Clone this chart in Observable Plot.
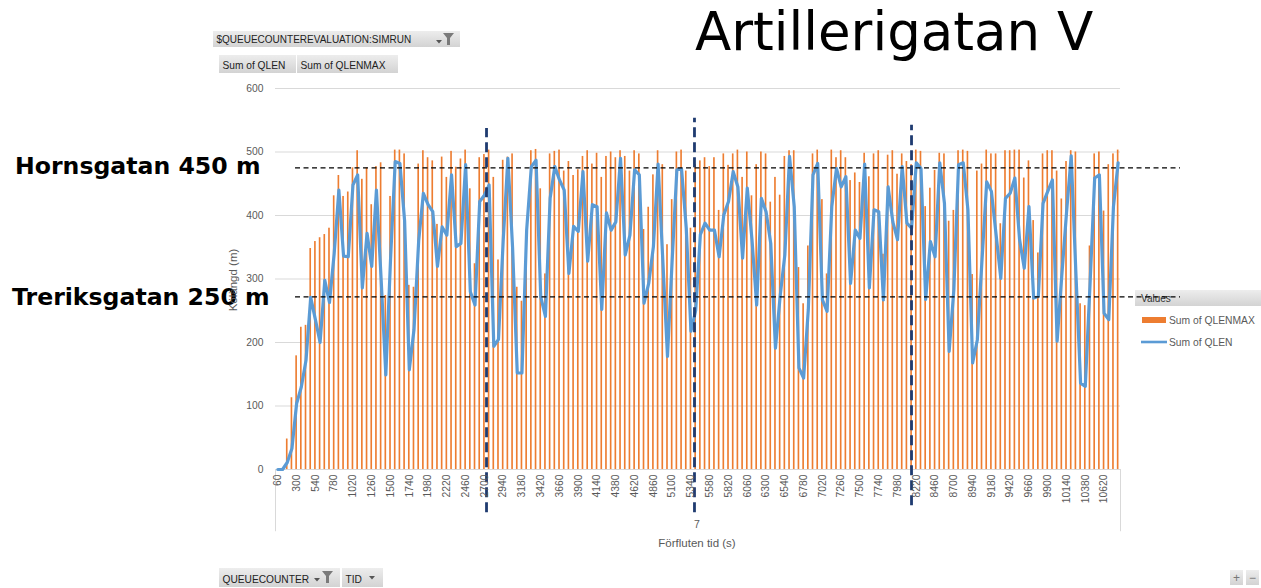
<!DOCTYPE html>
<html><head><meta charset="utf-8">
<script src="https://cdn.jsdelivr.net/npm/d3@7"></script>
<script src="https://cdn.jsdelivr.net/npm/@observablehq/plot@0.6"></script>
<style>
html,body{margin:0;padding:0;background:#fff;}
#wrap{position:relative;width:1261px;height:588px;overflow:hidden;font-family:"Liberation Sans",Arial,sans-serif;}
#under,#over,#chart{position:absolute;left:0;top:0;}
#chart svg{display:block;}
</style></head><body>
<div id="wrap"><svg id="under" width="1261" height="588"></svg><div id="chart"></div><svg id="over" width="1261" height="588"></svg></div>
<script>
// category axis: elapsed time (s)
const times = d3.range(60, 10801, 60);
const xTickLabels = d3.range(60, 10801, 240);
const yTickValues = [0, 100, 200, 300, 400, 500, 600];

// Sum of QLENMAX (bars)
const qlenmax = [
  0, 0, 48, 113, 179, 224, 227, 348, 359, 365,
  370, 380, 431, 463, 430, 437, 475, 502, 457, 475,
  417, 477, 483, 274, 430, 503, 503, 497, 290, 287,
  481, 502, 491, 486, 386, 492, 460, 501, 476, 489,
  503, 442, 324, 491, 496, 503, 460, 330, 487, 492,
  497, 287, 265, 375, 502, 504, 442, 308, 497, 501,
  503, 470, 485, 463, 472, 493, 502, 481, 498, 460,
  493, 500, 491, 502, 493, 470, 502, 497, 378, 413,
  464, 502, 480, 354, 425, 500, 503, 470, 380, 480,
  486, 491, 477, 491, 408, 497, 479, 497, 503, 460,
  500, 431, 480, 500, 497, 421, 460, 432, 493, 502,
  502, 318, 261, 352, 497, 503, 425, 308, 503, 491,
  502, 491, 455, 467, 452, 498, 461, 497, 502, 339,
  495, 502, 465, 497, 485, 480, 503, 501, 414, 443,
  471, 498, 497, 391, 408, 502, 503, 501, 307, 470,
  481, 503, 497, 497, 387, 502, 502, 503, 503, 459,
  486, 392, 341, 497, 502, 502, 470, 426, 485, 502,
  500, 261, 258, 352, 497, 500, 407, 480, 497, 503
];

// Sum of QLEN (line)
const qlen = [
  0, 0, 11, 33, 104, 130, 172, 271, 236, 200,
  298, 263, 340, 440, 336, 335, 448, 464, 286, 372,
  320, 440, 300, 149, 330, 485, 482, 392, 157, 220,
  360, 435, 417, 406, 320, 382, 369, 464, 351, 356,
  480, 280, 259, 422, 432, 448, 194, 205, 360, 490,
  350, 152, 152, 377, 477, 487, 272, 241, 427, 477,
  456, 440, 309, 383, 375, 469, 328, 417, 414, 252,
  404, 377, 390, 490, 338, 369, 472, 464, 262, 293,
  351, 481, 330, 178, 330, 472, 473, 380, 218, 250,
  370, 388, 377, 377, 335, 401, 422, 469, 445, 333,
  443, 362, 259, 427, 406, 356, 191, 273, 338, 493,
  414, 160, 144, 252, 464, 482, 267, 249, 414, 474,
  445, 461, 293, 377, 364, 481, 286, 409, 406, 267,
  445, 390, 362, 477, 388, 380, 483, 474, 268, 359,
  335, 483, 419, 186, 283, 480, 483, 409, 168, 204,
  330, 453, 438, 370, 301, 427, 435, 459, 362, 317,
  414, 270, 273, 419, 438, 456, 202, 306, 404, 494,
  309, 136, 131, 290, 459, 464, 246, 236, 414, 483
];

const seriesNames = ["Sum of QLENMAX", "Sum of QLEN"];
const pivotFields = ["$QUEUECOUNTEREVALUATION:SIMRUN", "QUEUECOUNTER", "TID"];
const referenceLines = [
  {label: "Hornsgatan 450 m", value: 475},
  {label: "Treriksgatan 250 m", value: 272}
];
const sectionMarkers = [
  {t: 2727, top: 537, bottom: -68},
  {t: 5385, top: 553, bottom: -68},
  {t: 8159, top: 542, bottom: -57}
];
const outerCategory = "7";

const rows = times.map((t, i) => ({t, qlenmax: qlenmax[i], qlen: qlen[i]}));
const ORANGE = "#ED7D31", BLUE = "#5B9BD5", GREY = "#595959";

const chart = Plot.plot({
  width: 1261, height: 588,
  marginLeft: 275, marginRight: 141, marginTop: 88, marginBottom: 119,
  style: {background: "transparent", overflow: "visible", fontFamily: "Liberation Sans, Arial, sans-serif"},
  x: {domain: [30, 10830], axis: null},
  y: {domain: [0, 600], axis: null},
  marks: [
    Plot.gridY(yTickValues, {stroke: "#D9D9D9", strokeOpacity: 1}),
    Plot.ruleX([30, 10830], {y1: 0, y2: -98, stroke: "#D9D9D9", strokeOpacity: 1}),
    Plot.rectY(rows, {x1: d => d.t - 10.5, x2: d => d.t + 10.5, y: "qlenmax", fill: ORANGE}),
    Plot.line(rows, {x: "t", y: "qlen", stroke: BLUE, strokeWidth: 3.2, strokeLinejoin: "round", strokeLinecap: "round"}),
    Plot.ruleY(referenceLines, {y: "value", x1: 286, x2: 11597, stroke: "#000", strokeWidth: 1.3, strokeDasharray: "5,3.5"}),
    Plot.ruleX(sectionMarkers, {x: "t", y1: "bottom", y2: "top", stroke: "#1F3B70", strokeWidth: 2.8, strokeDasharray: "10,5"}),
    Plot.axisY({ticks: yTickValues, tickSize: 0, tickPadding: 12, fontSize: 10.3, fill: GREY, stroke: GREY, label: null}),
    Plot.axisX({ticks: xTickLabels, tickFormat: d => String(d), tickRotate: -90, tickSize: 0, tickPadding: 5, fontSize: 10.3, fill: GREY, stroke: GREY, label: null})
  ]
});
document.getElementById("chart").appendChild(chart);

// ---- underlay (legend header, crossed by the dashed line) ----
const under = d3.select("#under");
const defs = under.append("defs");
const g1 = defs.append("linearGradient").attr("id", "btn").attr("x1", 0).attr("y1", 0).attr("x2", 0).attr("y2", 1);
g1.append("stop").attr("offset", 0).attr("stop-color", "#EDEDED");
g1.append("stop").attr("offset", 1).attr("stop-color", "#D3D3D3");
under.append("rect").attr("x", 1135).attr("y", 290).attr("width", 130).attr("height", 16).attr("fill", "url(#btn)");
under.append("text").attr("x", 1141).attr("y", 302).attr("font-size", 10).attr("fill", "#333").text("Values");

// ---- overlay ----
const over = d3.select("#over");
const od = over.append("defs");
const g2 = od.append("linearGradient").attr("id", "btn2").attr("x1", 0).attr("y1", 0).attr("x2", 0).attr("y2", 1);
g2.append("stop").attr("offset", 0).attr("stop-color", "#EDEDED");
g2.append("stop").attr("offset", 1).attr("stop-color", "#D3D3D3");

over.append("text").attr("x", 695).attr("y", 50)
  .attr("font-family", "DejaVu Sans, Verdana, sans-serif").attr("font-size", 53).attr("fill", "#000")
  .text("Artillerigatan V");

const refLabelPos = [{x: 15, y: 174}, {x: 12, y: 305}];
referenceLines.forEach((r, i) => {
  over.append("text").attr("x", refLabelPos[i].x).attr("y", refLabelPos[i].y)
    .attr("font-family", "DejaVu Sans, Verdana, sans-serif").attr("font-weight", "bold")
    .attr("font-size", 23.6).attr("fill", "#000").text(r.label);
});

over.append("text").attr("transform", "translate(237,280) rotate(-90)").attr("text-anchor", "middle")
  .attr("font-size", 11.5).attr("fill", GREY).text("Kölängd (m)");

over.append("text").attr("x", 697).attr("y", 528).attr("text-anchor", "middle")
  .attr("font-size", 10.5).attr("fill", GREY).text(outerCategory);
over.append("text").attr("x", 697).attr("y", 547).attr("text-anchor", "middle")
  .attr("font-size", 11.5).attr("fill", GREY).text("Förfluten tid (s)");

// legend
over.append("rect").attr("x", 1142).attr("y", 317).attr("width", 24).attr("height", 6).attr("fill", ORANGE);
over.append("text").attr("x", 1169).attr("y", 323.5).attr("font-size", 10.3).attr("fill", GREY).text(seriesNames[0]);
over.append("line").attr("x1", 1141).attr("x2", 1167).attr("y1", 342).attr("y2", 342).attr("stroke", BLUE).attr("stroke-width", 2.6);
over.append("text").attr("x", 1169).attr("y", 346).attr("font-size", 10.3).attr("fill", GREY).text(seriesNames[1]);

// pivot buttons
function button(x, y, w, h, label, fs) {
  over.append("rect").attr("x", x).attr("y", y).attr("width", w).attr("height", h).attr("fill", "url(#btn2)");
  over.append("text").attr("x", x + 3.5).attr("y", y + h - 4.5).attr("font-size", fs).attr("fill", "#222").text(label);
}
function funnel(x, y) {
  over.append("path").attr("d", `M${x},${y} h11 l-4,5 v7 h-3 v-7 z`).attr("fill", "#7A7A7A");
}
function caret(x, y) {
  over.append("path").attr("d", `M${x},${y} h6 l-3,3.5 z`).attr("fill", "#555");
}
button(213, 31, 247, 16, pivotFields[0], 10);
caret(436, 40); funnel(443, 33);
button(219, 55, 77, 18, seriesNames[1], 10.2);
button(297, 55, 101, 18, seriesNames[0], 10.2);
button(219, 568, 121, 19, pivotFields[1], 10.2);
caret(314, 578); funnel(322, 571);
button(342, 568, 41, 19, pivotFields[2], 10.2);
caret(369, 576);
// zoom buttons
over.append("rect").attr("x", 1230).attr("y", 570).attr("width", 13).attr("height", 15).attr("fill", "url(#btn2)");
over.append("rect").attr("x", 1246).attr("y", 570).attr("width", 13).attr("height", 15).attr("fill", "url(#btn2)");
over.append("text").attr("x", 1236.5).attr("y", 582).attr("text-anchor", "middle").attr("font-size", 12).attr("fill", "#777").text("+");
over.append("text").attr("x", 1252.5).attr("y", 582).attr("text-anchor", "middle").attr("font-size", 12).attr("fill", "#777").text("−");
</script>
</body></html>
